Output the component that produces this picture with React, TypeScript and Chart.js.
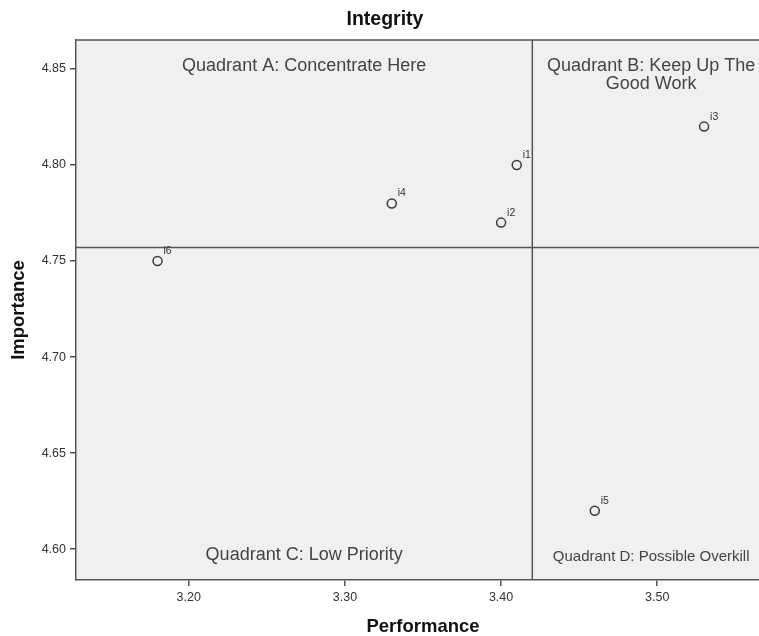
import React, { useEffect, useRef } from "react";
import { Chart, registerables } from "chart.js";

Chart.register(...registerables);

const itemLabels = ["i1", "i2", "i3", "i4", "i5", "i6"];
const performance = [3.41, 3.40, 3.53, 3.33, 3.46, 3.18];
const importance = [4.80, 4.77, 4.82, 4.78, 4.62, 4.75];

const xMin = 3.1278;
const xMax = 3.5722;
const yMin = 4.5839;
const yMax = 4.8651;
const xStep = 0.1;
const yStep = 0.05;

const perfCut = 3.42;
const impCut = 4.757;

const chartTitle = "Integrity";
const xTitle = "Performance";
const yTitle = "Importance";

const quadA = ["Quadrant A: Concentrate Here"];
const quadB = ["Quadrant B: Keep Up The", "Good Work"];
const quadC = ["Quadrant C: Low Priority"];
const quadD = ["Quadrant D: Possible Overkill"];

const FONT = "'Liberation Sans', Arial, sans-serif";
const LINE = "#555555";

export default function App() {
  const ref = useRef<HTMLCanvasElement | null>(null);

  useEffect(() => {
    if (!ref.current) return;
    const overlay = {
      id: "overlay",
      beforeDraw(chart: any) {
        const { ctx, chartArea } = chart;
        ctx.save();
        ctx.fillStyle = "#f0f0f0";
        ctx.fillRect(chartArea.left, chartArea.top, chartArea.right - chartArea.left, chartArea.bottom - chartArea.top);
        ctx.restore();
      },
      afterDatasetsDraw(chart: any) {
        const { ctx, chartArea, scales } = chart;
        const xs = scales.x;
        const ys = scales.y;
        ctx.save();
        ctx.strokeStyle = LINE;
        ctx.lineWidth = 1.5;
        ctx.beginPath();
        ctx.moveTo(chartArea.left, chartArea.top);
        ctx.lineTo(chartArea.right, chartArea.top);
        ctx.stroke();
        const vx = xs.getPixelForValue(perfCut);
        const hy = ys.getPixelForValue(impCut);
        ctx.beginPath();
        ctx.moveTo(vx, chartArea.top);
        ctx.lineTo(vx, chartArea.bottom);
        ctx.moveTo(chartArea.left, hy);
        ctx.lineTo(chartArea.right, hy);
        ctx.stroke();

        ctx.fillStyle = "#444444";
        ctx.textAlign = "center";
        ctx.textBaseline = "alphabetic";
        const leftMid = xs.getPixelForValue((xMin + perfCut) / 2);
        const rMid = xs.getPixelForValue((perfCut + xMax) / 2);
        ctx.font = `18px ${FONT}`;
        quadA.forEach((t, i) => ctx.fillText(t, leftMid, chartArea.top + 31 + i * 18));
        quadB.forEach((t, i) => ctx.fillText(t, rMid, chartArea.top + 31 + i * 18));
        quadC.forEach((t, i) => ctx.fillText(t, leftMid, chartArea.bottom - 20 + i * 18));
        ctx.font = `15px ${FONT}`;
        quadD.forEach((t, i) => ctx.fillText(t, rMid, chartArea.bottom - 19 + i * 18));

        ctx.font = `10.5px ${FONT}`;
        ctx.fillStyle = "#333333";
        ctx.textAlign = "left";
        performance.forEach((p, i) => {
          const px = xs.getPixelForValue(p);
          const py = ys.getPixelForValue(importance[i]);
          ctx.fillText(itemLabels[i], px + 6, py - 7);
        });

        ctx.fillStyle = "#111111";
        ctx.textAlign = "center";
        ctx.font = `bold 19.5px ${FONT}`;
        ctx.fillText(chartTitle, chartArea.right / 2, 25);
        ctx.font = `bold 18.5px ${FONT}`;
        ctx.fillText(xTitle, (chartArea.left + chartArea.right) / 2, 632);
        ctx.save();
        ctx.translate(24, (chartArea.top + chartArea.bottom) / 2);
        ctx.rotate(-Math.PI / 2);
        ctx.fillText(yTitle, 0, 0);
        ctx.restore();
        ctx.restore();
      },
    };

    const chart = new Chart(ref.current, {
      type: "scatter",
      data: {
        datasets: [
          {
            label: "Items",
            data: performance.map((p, i) => ({ x: p, y: importance[i] })),
            pointStyle: "circle",
            pointRadius: 4.5,
            borderColor: "#3a3a3a",
            backgroundColor: "rgba(0,0,0,0)",
            borderWidth: 1.5,
          },
        ],
      },
      options: {
        animation: false,
        responsive: false,
        maintainAspectRatio: false,
        layout: { padding: { top: 40, left: 0, right: 0, bottom: 0 } },
        plugins: {
          legend: { display: false },
          title: { display: false },
          tooltip: { enabled: false },
        },
        scales: {
          x: {
            type: "linear",
            min: xMin,
            max: xMax,
            afterFit: (s: any) => {
              s.height = 56;
              s.paddingLeft = 0;
              s.paddingRight = 0;
            },
            ticks: {
              stepSize: xStep,
              includeBounds: false,
              callback: (v: any) => Number(v).toFixed(2),
              color: "#333333",
              font: { family: FONT, size: 12.5 },
              padding: 4,
              maxRotation: 0,
            },
            grid: { drawOnChartArea: false, drawTicks: true, tickLength: 6, color: LINE, lineWidth: 1.5 },
            border: { display: true, color: LINE, width: 1.5 },
          },
          y: {
            type: "linear",
            min: yMin,
            max: yMax,
            afterFit: (s: any) => {
              s.width = 76;
              s.paddingTop = 0;
              s.paddingBottom = 0;
            },
            ticks: {
              stepSize: yStep,
              includeBounds: false,
              callback: (v: any) => Number(v).toFixed(2),
              color: "#333333",
              font: { family: FONT, size: 12.5 },
              padding: 4,
            },
            grid: { drawOnChartArea: false, drawTicks: true, tickLength: 6, color: LINE, lineWidth: 1.5 },
            border: { display: true, color: LINE, width: 1.5 },
          },
        },
      },
      plugins: [overlay],
    });
    return () => chart.destroy();
  }, []);

  return (
    <div style={{ position: "absolute", left: 0, top: 0, width: 759, height: 636, overflow: "hidden", background: "#fff" }}>
      <canvas ref={ref} width={776} height={636} style={{ width: 776, height: 636, display: "block" }} />
    </div>
  );
}
